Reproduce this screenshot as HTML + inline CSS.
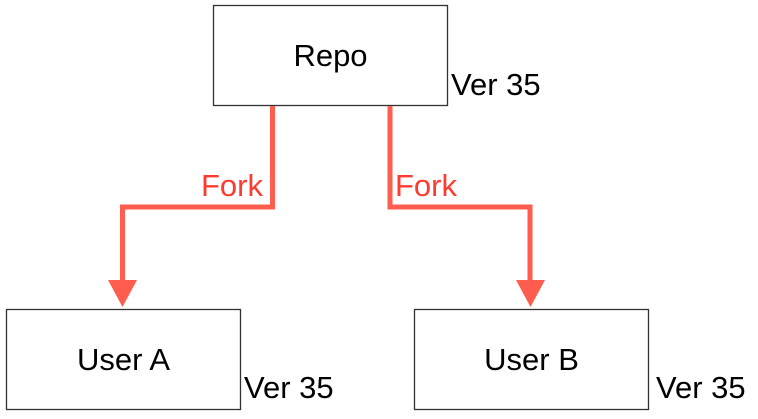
<!DOCTYPE html>
<html><head><meta charset="utf-8"><style>
html,body{margin:0;padding:0;background:#fff;}
svg{display:block;font-family:"Liberation Sans",Arial,sans-serif;}
</style></head><body>
<svg width="758" height="419" viewBox="0 0 758 419">
<rect x="213.5" y="5.5" width="234" height="100" fill="#fff" stroke="#333" stroke-width="1.3"/>
<rect x="6.5" y="309.5" width="234" height="100" fill="#fff" stroke="#333" stroke-width="1.3"/>
<rect x="414.5" y="309.5" width="234" height="100" fill="#fff" stroke="#333" stroke-width="1.3"/>
<g fill="none" stroke="#FF5E4E" stroke-width="5">
<polyline points="272.5,106 272.5,207 122.5,207 122.5,282"/>
<polyline points="390,106 390,207 530,207 530,282"/>
</g>
<polygon points="108,280 137,280 122.5,307" fill="#FF5E4E"/>
<polygon points="516,280 545,280 530.5,307" fill="#FF5E4E"/>
<g font-size="31" fill="#000">
<text x="330.5" y="66" text-anchor="middle">Repo</text>
<text x="123.5" y="370" text-anchor="middle">User A</text>
<text x="531.5" y="370" text-anchor="middle">User B</text>
<text x="451" y="95">Ver 35</text>
<text x="244" y="398">Ver 35</text>
<text x="656" y="398">Ver 35</text>
</g>
<g font-size="31" fill="#FF3B30">
<text x="263" y="196" text-anchor="end">Fork</text>
<text x="395" y="196">Fork</text>
</g>
</svg>
</body></html>
